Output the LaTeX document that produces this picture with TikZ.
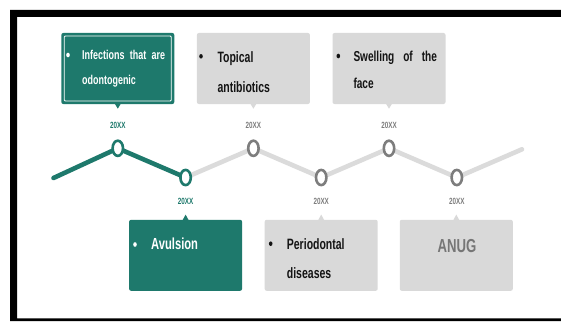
\documentclass[tikz,border=0pt]{standalone}
\usepackage{fontspec}
\setmainfont{Liberation Sans}[FakeStretch=0.7]
\usetikzlibrary{shapes.geometric}

\definecolor{tlgreen}{RGB}{30,121,108}
\definecolor{cardgray}{RGB}{217,217,217}
\definecolor{trackgray}{RGB}{219,219,219}
\definecolor{ringgray}{RGB}{125,125,125}
\definecolor{labelgray}{RGB}{118,118,118}
\definecolor{inkdark}{RGB}{20,20,20}

\tikzset{
  card/.style={rounded corners=2pt, minimum width=113pt, minimum height=71pt,
    inner sep=0pt, draw=none},
  tealcard/.style={card, fill=tlgreen},
  graycard/.style={card, fill=cardgray},
  ring/.style={ellipse, draw, line width=2.6pt, fill=white,
    minimum width=10.4pt, minimum height=15.2pt, inner sep=0pt},
  track/.style={line width=4.6pt, line cap=round, line join=round},
  yearlbl/.style={inner sep=0pt, anchor=base,
    font=\bfseries\fontsize{9}{9}\selectfont},
  txtsmall/.style={inner sep=0pt, anchor=base west,
    font=\bfseries\fontsize{12.8}{12.8}\selectfont},
  txtmid/.style={inner sep=0pt, anchor=base west,
    font=\bfseries\fontsize{14.4}{14.4}\selectfont},
  txtbig/.style={inner sep=0pt, anchor=base west,
    font=\bfseries\fontsize{15}{15}\selectfont},
}

\begin{document}
\begin{tikzpicture}[x=1pt,y=-1pt]
\useasboundingbox (0,0) rectangle (561,321);
\fill[white] (0,0) rectangle (561,321);

% black frame, open on the right
\fill[black, even odd rule] (10,10) rectangle (561,321)
  (17,17) rectangle (561,318.3);

% timeline points
\coordinate (t0) at (53.5,178);
\coordinate (p1) at (117.8,148.3);
\coordinate (p2) at (185.6,177.5);
\coordinate (p3) at (253.4,148.3);
\coordinate (p4) at (321.2,177.5);
\coordinate (p5) at (389,148.3);
\coordinate (p6) at (456.8,177.5);
\coordinate (t7) at (522,149.3);

% zig-zag track
\draw[track, trackgray] (p2) -- (p3) -- (p4) -- (p5) -- (p6) -- (t7);
\draw[track, tlgreen] (t0) -- (p1) -- (p2);

% milestone rings
\node[ring, draw=tlgreen] (r1) at (p1) {};
\node[ring, draw=tlgreen] (r2) at (p2) {};
\node[ring, draw=ringgray] (r3) at (p3) {};
\node[ring, draw=ringgray] (r4) at (p4) {};
\node[ring, draw=ringgray] (r5) at (p5) {};
\node[ring, draw=ringgray] (r6) at (p6) {};

% year labels
\node[yearlbl, text=tlgreen] (y1) at (117.8,128.8) {20XX};
\node[yearlbl, text=tlgreen] (y2) at (185.6,204) {20XX};
\node[yearlbl, text=ringgray] (y3) at (253.4,128.8) {20XX};
\node[yearlbl, text=ringgray] (y4) at (321.2,204) {20XX};
\node[yearlbl, text=ringgray] (y5) at (389,128.8) {20XX};
\node[yearlbl, text=ringgray] (y6) at (456.8,204) {20XX};

% upper cards
\node[tealcard] (b1) at (117.8,68.5) {};
\node[draw=white, line width=0.8pt, rounded corners=1pt, inner sep=0pt,
  minimum width=107pt, minimum height=65pt] (b1in) at (b1) {};
\fill[tlgreen] (b1.south) ++(-3,-0.5) -- ++(3,5) -- ++(3,-5) -- cycle;

\node[graycard] (b2) at (253.4,68.5) {};
\fill[cardgray] (b2.south) ++(-3,-0.5) -- ++(3,5) -- ++(3,-5) -- cycle;

\node[graycard] (b3) at (389,68.5) {};
\fill[cardgray] (b3.south) ++(-3,-0.5) -- ++(3,5) -- ++(3,-5) -- cycle;

% lower cards
\node[tealcard] (b4) at (185.6,255.3) {};
\fill[tlgreen] (b4.north) ++(-3,0.5) -- ++(3,-5.5) -- ++(3,5.5) -- cycle;

\node[graycard] (b5) at (321.2,255.3) {};
\fill[cardgray] (b5.north) ++(-3,0.5) -- ++(3,-5.5) -- ++(3,5.5) -- cycle;

\node[graycard] (b6) at (456.3,255.3) {};
\fill[cardgray] (b6.north) ++(-3,0.5) -- ++(3,-5.5) -- ++(3,5.5) -- cycle;

% bullets
\fill[white] (68,55) ellipse [x radius=1.8pt, y radius=2.3pt];
\fill[inkdark] (201,56.3) ellipse [x radius=1.8pt, y radius=2.3pt];
\fill[inkdark] (338.3,56) ellipse [x radius=1.8pt, y radius=2.3pt];
\fill[white] (135,244.5) ellipse [x radius=1.8pt, y radius=2.3pt];
\fill[inkdark] (270.7,243.7) ellipse [x radius=1.8pt, y radius=2.3pt];

% card texts
\node[txtsmall, text=white] (x1a) at (82,59.7) {\makebox[83pt][s]{Infections that are}};
\node[txtsmall, text=white] (x1b) at (82,84.7) {odontogenic};

\node[txtbig, text=inkdark] (x2a) at (217.3,62.7) {Topical};
\node[txtbig, text=inkdark] (x2b) at (217.3,92) {antibiotics};

\node[txtmid, text=inkdark] (x3a) at (353.3,61.3) {\makebox[83.4pt][s]{Swelling of the}};
\node[txtmid, text=inkdark] (x3b) at (353.3,88.5) {face};

\node[inner sep=0pt, anchor=base west, text=white,
  font=\bfseries\fontsize{16}{16}\selectfont] (x4) at (151,249.7) {Avulsion};

\node[txtbig, text=inkdark] (x5a) at (286.7,249.3) {Periodontal};
\node[txtbig, text=inkdark] (x5b) at (286.7,278.7) {diseases};

\node[inner sep=0pt, anchor=base, text=labelgray,
  font=\bfseries\fontsize{18.8}{18.8}\selectfont] (x6) at (457,252.8) {ANUG};
\end{tikzpicture}
\end{document}
